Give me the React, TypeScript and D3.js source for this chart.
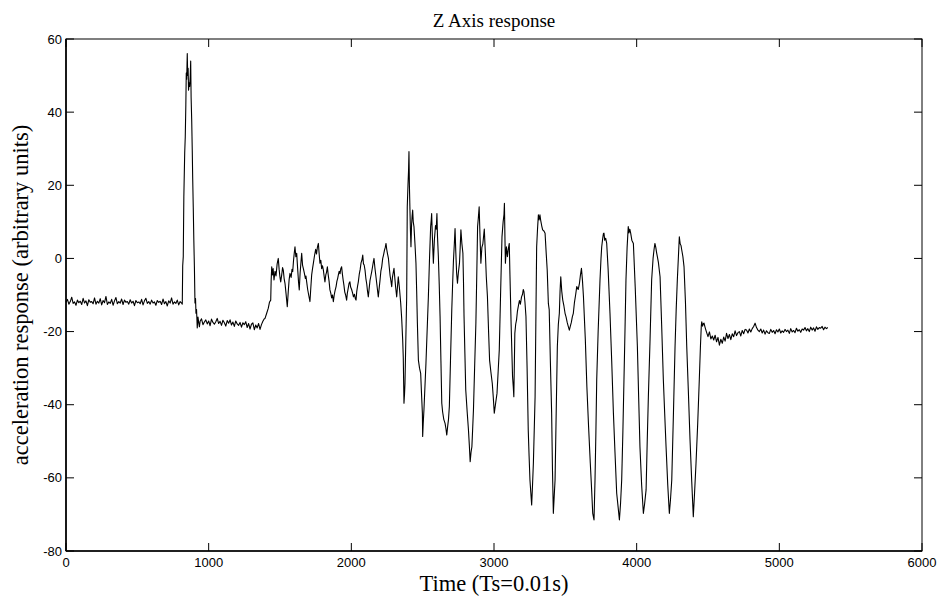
import React from "react";
import * as d3 from "d3";

// ---- Data ----
// Flat segment before the impact: samples every 10 time units starting at t=0
const flat1Start = 0;
const flat1Step = 10;
const flat1Values = [
  -12, -11.2, -12.5, -11.8, -10.6, -12.3, -11.9, -12.8, -11.4, -12.1, -11.7, -12.6, -10.9, -12.2, -11.6, -12.9, -11.3, -12.0, -11.8, -12.4,
  -10.8, -12.5, -11.7, -12.2, -11.0, -12.7, -11.5, -12.1, -10.4, -12.6, -11.9, -12.3, -11.2, -12.8, -11.6, -10.7, -12.4, -11.8, -12.2, -11.1,
  -12.6, -11.4, -12.0, -11.8, -12.5, -11.3, -12.2, -11.7, -12.9, -11.5, -12.1, -11.9, -12.4, -11.2, -12.7, -11.6, -10.9, -12.3, -11.8, -12.5,
  -11.4, -12.2, -11.9, -12.8, -11.5, -12.0, -11.7, -12.6, -11.1, -12.4, -11.8, -13.0, -11.6, -12.2, -10.8, -12.5, -11.9, -12.3, -11.4, -12.7,
  -11.8, -12.2,
];

// Impact spike [t, value]
const spikePoints: [number, number][] = [
  [815, -12.5], [818, -2], [822, 0.5], [826, 16.9], [832, 28.8], [836, 33.3], [840, 42], [843, 50.7], [846, 49],
  [850, 56], [853, 50], [856, 52], [859, 46], [863, 48], [867, 47], [871, 50], [874, 54], [877, 44], [881, 38],
  [885, 29.6], [888, 22], [892, 14], [896, 5], [900, -2.3], [904, -12.2], [908, -11], [911, -15], [915, -14],
  [920, -19], [925, -16], [930, -17.5], [935, -18.7],
];

// Second flat segment: samples every 10 units starting at t=940
const flat2Start = 940;
const flat2Step = 10;
const flat2Values = [
  -17.2, -16.5, -18.1, -17.4, -16.8, -17.9, -17.1, -18.4, -16.6, -17.5,
  -18.0, -17.3, -16.4, -17.8, -17.2, -18.3, -16.9, -17.6, -18.5, -17.0,
  -17.7, -16.8, -18.2, -17.4, -18.6, -17.1, -17.9, -18.3, -17.5, -18.8,
  -17.6, -18.1, -17.3, -18.9, -17.8, -19.3, -18.0, -17.6, -19.5, -18.2,
  -19.0, -17.8, -19.4, -18.1, -17.2, -16.5,
];

// Noisy middle section and oscillations [t, value]
const motionPoints: [number, number][] = [
  [1395, -16.4], [1405, -15.2], [1418, -13.6], [1426, -12.0], [1435, -11.4], [1438, -6], [1442, -2.3], [1447, -4.5],
  [1452, -2.8], [1458, -5.9], [1465, -3.5], [1472, -4.8], [1480, -1.5], [1488, 0], [1494, -3], [1500, -5.2],
  [1505, -6.4], [1512, -4.5], [1518, -2.5], [1523, -3.2], [1529, -5.5], [1535, -6.8], [1542, -9.5], [1551, -13.2],
  [1558, -9], [1564, -5.8], [1570, -4.1], [1578, -5.2], [1584, -3], [1589, -3.6], [1595, -0.5], [1600, 1.5],
  [1605, 3.2], [1611, 0.5], [1617, 1.4], [1624, -3], [1630, -6.5], [1635, -8.6], [1641, -4], [1647, -1],
  [1652, 1.4], [1658, -1.8], [1665, -3], [1671, -4.1], [1678, -5.5], [1682, -4.8], [1687, -6.4], [1694, -8.5],
  [1702, -10.2], [1710, -11.8], [1716, -8], [1722, -4.5], [1728, -2.8], [1734, -1.3], [1742, 0.8], [1750, 2.5],
  [1756, 1.2], [1762, 3], [1769, 4.1], [1774, 1.5], [1780, -1.3], [1786, -0.5], [1792, -2.8], [1798, -2],
  [1804, -3.2], [1810, -5], [1815, -6.4], [1821, -4.5], [1826, -3.8], [1832, -2.3], [1838, -4.5], [1844, -6.2],
  [1850, -8.6], [1856, -9.5], [1862, -10.8], [1868, -10], [1874, -11.8], [1880, -10], [1886, -8.8], [1893, -7.7],
  [1899, -6.2], [1904, -5.5], [1909, -4.5], [1915, -3.5], [1921, -4.2], [1926, -2.8], [1932, -2.3], [1938, -4.5],
  [1943, -6], [1948, -7.3], [1954, -9.2], [1960, -10], [1967, -11.4], [1972, -9.5], [1978, -8.2], [1984, -6.8],
  [1990, -6.4], [1995, -7.8], [2002, -8.5], [2009, -9.5], [2015, -10.5], [2022, -9.8], [2028, -11], [2033, -11.4],
  [2038, -9], [2044, -7.5], [2049, -6.4], [2056, -4.2], [2062, -3], [2068, -1.2], [2074, -0.5], [2080, 0.9],
  [2085, -1.5], [2090, -1.8], [2096, -3.2], [2102, -5.5], [2108, -7], [2113, -8.8], [2119, -10.5], [2125, -8.2],
  [2131, -6], [2137, -4.8], [2143, -3.6], [2149, -2.2], [2154, -1], [2159, 0], [2165, -2.5], [2172, -4.8],
  [2178, -6.8], [2183, -8.5], [2189, -10.5], [2195, -8.2], [2201, -6], [2207, -3.5], [2213, -2.3], [2220, 0],
  [2226, 1], [2232, 2.2], [2238, 3], [2243, 4.1], [2248, 2.5], [2254, 1.2], [2260, 0], [2266, -2.5],
  [2272, -4.8], [2277, -6], [2283, -7.7], [2288, -5.2], [2294, -3.8], [2299, -2.7], [2305, -5.5], [2311, -8],
  [2318, -10.5], [2329, -5], [2337, -8], [2346, -12.2], [2353, -16.5], [2360, -22.3], [2364, -27], [2369, -39.6],
  [2373, -37], [2376, -34.2], [2382, -22], [2388, -10.5], [2392, 14.1], [2397, 20], [2401, 24], [2404, 29.2],
  [2407, 20], [2411, 13.2], [2414, 8], [2418, 3.2], [2422, 9], [2426, 11.5], [2430, 13.2], [2434, 10],
  [2439, 8.7], [2446, 4], [2453, -1.3], [2458, -9], [2463, -17.7], [2470, -27.8], [2478, -30], [2486, -31.4],
  [2492, -37], [2498, -42.3], [2500, -48.7], [2504, -45], [2509, -41.4], [2516, -35], [2523, -28.7], [2532, -19],
  [2540, -10.5], [2548, 0], [2556, 8.7], [2560, 10.5], [2563, 12.3], [2568, 6], [2575, -1.3], [2582, 5],
  [2590, 9], [2595, 8], [2600, 12.3], [2604, 6], [2610, 0.5], [2616, -7], [2622, -15.9], [2628, -28],
  [2634, -39.6], [2640, -42], [2648, -44], [2657, -45.1], [2663, -46.5], [2669, -48.3], [2675, -46], [2681, -44],
  [2687, -40.5], [2695, -28], [2704, -14.1], [2710, -7], [2716, -0.4], [2722, 4], [2727, 8.2], [2732, 2],
  [2738, -4], [2744, -6.8], [2750, -4], [2758, -1.3], [2763, 3], [2768, 7.8], [2775, 4], [2782, 1.4],
  [2786, -6], [2790, -15.9], [2796, -26], [2802, -36], [2812, -42], [2821, -46.9], [2827, -51], [2833, -55.6],
  [2839, -53], [2845, -51.5], [2850, -47], [2856, -41.4], [2864, -30], [2873, -17.7], [2879, -5], [2885, 8.7],
  [2890, 11], [2896, 14.1], [2902, 6], [2908, -1.3], [2915, 3], [2922, 4], [2932, 8], [2940, 1],
  [2946, -5], [2954, -10.5], [2962, -20], [2969, -27.8], [2978, -31], [2988, -34.2], [2995, -38], [3002, -42.3],
  [3010, -40], [3021, -36.9], [3029, -31], [3037, -25], [3046, -10], [3056, 5.9], [3064, 10], [3070, 12],
  [3073, 15.1], [3077, 5], [3080, -1.3], [3084, 1.5], [3087, 3.2], [3094, 0.5], [3100, 2.5], [3107, 4.1],
  [3111, -3.2], [3120, -18], [3130, -32.3], [3135, -35], [3139, -37.8], [3143, -28], [3146, -20.5], [3152, -18],
  [3158, -16.8], [3164, -14.5], [3170, -13.2], [3178, -11.5], [3185, -12.5], [3193, -10.5], [3200, -9.8], [3205, -8.5],
  [3210, -9.1], [3217, -12], [3224, -15.9], [3232, -30], [3240, -46.9], [3246, -54], [3252, -60.6], [3258, -64],
  [3264, -67.4], [3270, -62], [3276, -56], [3282, -47], [3288, -37.8], [3294, -15], [3299, 3.2], [3305, 8],
  [3311, 11.9], [3316, 10.5], [3322, 11.9], [3327, 10.5], [3334, 9], [3341, 7.8], [3350, 7.5], [3358, 6.9],
  [3365, 2], [3373, -3.2], [3381, -12.3], [3387, -14], [3395, -28], [3404, -42.3], [3410, -58], [3416, -69.7],
  [3422, -65], [3428, -60.6], [3436, -42], [3444, -24.1], [3451, -18], [3458, -15], [3463, -9], [3468, -5],
  [3475, -9], [3482, -11.4], [3490, -13], [3498, -15], [3505, -16], [3513, -17.5], [3520, -18.5], [3528, -19.6],
  [3535, -18.5], [3542, -17.5], [3549, -16], [3556, -15], [3564, -12], [3572, -10], [3580, -7.7], [3590, -8.5],
  [3599, -6.8], [3606, -4.5], [3613, -2.7], [3620, -6], [3627, -10.5], [3640, -22], [3651, -35.1], [3663, -46],
  [3675, -56], [3684, -63], [3692, -69.7], [3701, -71.5], [3708, -60.6], [3714, -48], [3720, -33.2], [3730, -20],
  [3743, -5.9], [3750, 0], [3755, 3.2], [3762, 5.5], [3767, 6.8], [3771, 6.9], [3776, 5], [3783, 5.5],
  [3790, 4.1], [3800, -3], [3813, -15], [3825, -28], [3837, -42.3], [3848, -53], [3860, -64.2], [3870, -68],
  [3879, -71.5], [3887, -67], [3895, -60.6], [3903, -48], [3911, -33.2], [3918, -20], [3925, -5.9], [3933, 3],
  [3941, 8.7], [3946, 7], [3952, 8], [3958, 6.9], [3966, 5], [3977, 4.1], [3990, -8], [4005, -24.1],
  [4014, -38], [4023, -51.5], [4035, -62], [4047, -69.7], [4056, -67], [4066, -63.3], [4074, -50], [4082, -37.8],
  [4094, -22], [4105, -5.9], [4115, 0], [4122, 2.5], [4128, 4.1], [4134, 3], [4140, 1.5], [4145, 0.5],
  [4152, -1], [4164, -5], [4175, -18], [4187, -33.2], [4196, -42], [4206, -51.5], [4218, -62], [4229, -69.7],
  [4237, -66], [4246, -60.6], [4258, -42], [4269, -24.1], [4277, -14], [4285, -5.9], [4292, 0], [4299, 5.9],
  [4305, 4], [4311, 3.5], [4316, 2.3], [4324, 0.5], [4332, -2.3], [4342, -12], [4351, -24.1], [4362, -36],
  [4374, -49.6], [4386, -61], [4397, -70.6], [4406, -64], [4416, -56], [4428, -45], [4439, -33.2], [4447, -24],
  [4453, -18.5], [4456, -17.3], [4462, -18.5], [4468, -17.8], [4472, -17.7],
];

// Settled tail: samples every 10 units starting at t=4480
const tailStart = 4480;
const tailStep = 10;
const tailValues = [
  -18.9, -20.2, -21.4, -20.1, -22.0, -21.2, -22.3, -21.0, -22.8, -21.6,
  -23.7, -22.1, -23.2, -21.5, -22.6, -20.5, -21.9, -20.8, -22.2, -20.6,
  -21.4, -19.8, -21.1, -20.3, -20.0, -21.2, -19.7, -20.6, -19.4, -19.6,
  -20.4, -19.3, -20.1, -19.2, -18.6, -17.7, -18.9, -19.6, -20.0, -19.3,
  -20.4, -19.6, -20.7, -19.8, -20.3, -20.5, -19.4, -20.2, -19.7, -20.6,
  -19.5, -20.1, -19.3, -20.4, -19.8, -20.2, -19.4, -20.0, -19.6, -20.5,
  -19.2, -20.1, -19.7, -20.3, -19.1, -19.9, -19.5, -20.2, -19.3, -19.6,
  -18.9, -19.8, -19.2, -20.0, -18.8, -19.6, -19.0, -19.9, -18.7, -19.4,
  -18.9, -19.1, -18.6, -19.5, -18.8, -19.2, -18.9,
];

const xTicks = [0, 1000, 2000, 3000, 4000, 5000, 6000];
const yTicks = [-80, -60, -40, -20, 0, 20, 40, 60];

const titleText = "Z Axis response";
const xLabelText = "Time (Ts=0.01s)";
const yLabelText = "acceleration response (arbitrary units)";

function sampled(start: number, step: number, vals: number[]): [number, number][] {
  return vals.map((v, i) => [start + i * step, v] as [number, number]);
}

export default function App() {
  const W = 941;
  const H = 599;
  const left = 66;
  const right = 922;
  const top = 39;
  const bottom = 551;

  const x = d3.scaleLinear().domain([0, 6000]).range([left, right]);
  const y = d3.scaleLinear().domain([-80, 60]).range([bottom, top]);

  const series: [number, number][] = [
    ...sampled(flat1Start, flat1Step, flat1Values),
    ...spikePoints,
    ...sampled(flat2Start, flat2Step, flat2Values),
    ...motionPoints,
    ...sampled(tailStart, tailStep, tailValues),
  ];

  const line = d3
    .line<[number, number]>()
    .x((d) => x(d[0]))
    .y((d) => y(d[1]));

  const tickLen = 8;
  const numFont = "'Liberation Sans', Arial, sans-serif";
  const serif = "'Liberation Serif', 'Times New Roman', serif";

  return (
    <svg width={W} height={H} style={{ position: "absolute", left: 0, top: 0, background: "#fff" }}>
      <rect x={0} y={0} width={W} height={H} fill="#fff" />
      {/* data */}
      <path d={line(series) || ""} fill="none" stroke="#000" strokeWidth={1.1} strokeLinejoin="round" />
      {/* box */}
      <rect x={left} y={top} width={right - left} height={bottom - top} fill="none" stroke="#000" strokeWidth={1} />
      <line x1={left} x2={right} y1={bottom} y2={bottom} stroke="#000" strokeWidth={1.6} />
      <line x1={left} x2={left} y1={top} y2={bottom} stroke="#000" strokeWidth={1.6} />
      {/* x ticks */}
      {xTicks.map((t) => (
        <g key={"x" + t}>
          <line x1={x(t)} x2={x(t)} y1={bottom} y2={bottom - tickLen} stroke="#000" strokeWidth={1} />
          <line x1={x(t)} x2={x(t)} y1={top} y2={top + tickLen} stroke="#000" strokeWidth={1} />
          <text x={x(t)} y={bottom + 16} textAnchor="middle" fontFamily={numFont} fontSize={13} fill="#000">
            {t}
          </text>
        </g>
      ))}
      {/* y ticks */}
      {yTicks.map((t) => (
        <g key={"y" + t}>
          <line x1={left} x2={left + tickLen} y1={y(t)} y2={y(t)} stroke="#000" strokeWidth={1} />
          <line x1={right} x2={right - tickLen} y1={y(t)} y2={y(t)} stroke="#000" strokeWidth={1} />
          <text x={left - 4} y={y(t)} dy="0.35em" textAnchor="end" fontFamily={numFont} fontSize={13} fill="#000">
            {t}
          </text>
        </g>
      ))}
      <text x={(left + right) / 2} y={27} textAnchor="middle" fontFamily={serif} fontSize={19} fill="#000">
        {titleText}
      </text>
      <text x={(left + right) / 2} y={591} textAnchor="middle" fontFamily={serif} fontSize={22.5} fill="#000">
        {xLabelText}
      </text>
      <text
        transform={`translate(28, ${(top + bottom) / 2}) rotate(-90)`}
        textAnchor="middle"
        fontFamily={serif}
        fontSize={22.5}
        fill="#000"
      >
        {yLabelText}
      </text>
    </svg>
  );
}
